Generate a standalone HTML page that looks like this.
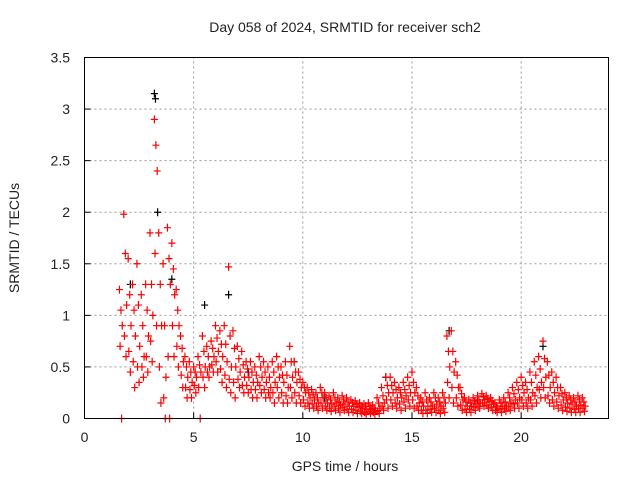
<!DOCTYPE html>
<html><head><meta charset="utf-8"><style>
body{margin:0;background:#fff;}
svg{display:block;font-family:"Liberation Sans",sans-serif;}
</style></head><body>
<svg id="chart" width="640" height="480" viewBox="0 0 640 480">
<rect width="640" height="480" fill="#fff"/>
<g id="grid"></g>
<g id="ticks"></g>
<g id="marks"></g>
<rect x="84.5" y="57.5" width="524" height="361" fill="none" stroke="#000" stroke-width="1"/>
<text x="345" y="32" font-size="14" text-anchor="middle" fill="#222">Day 058 of 2024, SRMTID for receiver sch2</text>
<text x="345" y="471" font-size="14" text-anchor="middle" fill="#222">GPS time / hours</text>
<text transform="translate(19,238) rotate(-90)" font-size="14" text-anchor="middle" fill="#222">SRMTID / TECUs</text>
</svg>
<script>
const xTicks=[0,5,10,15,20];
const yTicks=[0,0.5,1,1.5,2,2.5,3,3.5];
const yTickLabels=["0","0.5","1","1.5","2","2.5","3","3.5"];
const times=[1.6,1.8,2.0,2.2,2.4,2.6,2.8,3.0,3.2,3.4,3.6,3.8,4.0,4.2,4.4,4.6,4.8,5.0,5.2,5.4,5.6,5.8,6.0,6.2,6.4,6.6,6.8,7.0,7.2,7.4,7.6,7.8,8.0,8.2,8.4,8.6,8.8,9.0,9.2,9.4,9.6,9.8,10.0,10.2,10.4,10.6,10.8,11.0,11.2,11.4,11.6,11.8,12.0,12.2,12.4,12.6,12.8,13.0,13.2,13.4,13.6,13.8,14.0,14.2,14.4,14.6,14.8,15.0,15.2,15.4,15.6,15.8,16.0,16.2,16.4,16.6,16.8,17.0,17.2,17.4,17.6,17.8,18.0,18.2,18.4,18.6,18.8,19.0,19.2,19.4,19.6,19.8,20.0,20.2,20.4,20.6,20.8,21.0,21.2,21.4,21.6,21.8,22.0,22.2,22.4,22.6,22.8];
const redHi=[1.25,1.98,1.55,1.3,1.5,1.2,1.3,1.8,2.9,1.8,1.5,1.85,1.7,1.25,0.8,0.6,0.55,0.5,0.6,0.8,0.7,0.75,0.9,0.85,0.9,1.47,0.85,0.7,0.65,0.55,0.55,0.5,0.6,0.55,0.5,0.55,0.6,0.5,0.55,0.7,0.55,0.45,0.35,0.3,0.28,0.25,0.3,0.25,0.22,0.25,0.2,0.22,0.2,0.18,0.17,0.15,0.14,0.15,0.13,0.2,0.3,0.4,0.4,0.35,0.3,0.35,0.4,0.45,0.3,0.2,0.25,0.2,0.25,0.2,0.25,0.8,0.85,0.55,0.3,0.2,0.18,0.2,0.22,0.24,0.22,0.2,0.15,0.18,0.2,0.25,0.3,0.35,0.4,0.35,0.45,0.55,0.6,0.75,0.55,0.45,0.4,0.3,0.25,0.22,0.2,0.22,0.2];
const redUp=[1.05,1.6,1.2,1.05,1.1,0.9,1.05,1.3,2.65,1.3,0.9,1.55,1.45,1.05,0.68,0.5,0.45,0.45,0.52,0.65,0.6,0.68,0.78,0.72,0.72,0.8,0.68,0.58,0.52,0.48,0.45,0.42,0.5,0.45,0.4,0.45,0.5,0.42,0.42,0.55,0.45,0.38,0.3,0.25,0.23,0.2,0.25,0.2,0.18,0.2,0.16,0.18,0.16,0.15,0.14,0.12,0.12,0.12,0.1,0.15,0.22,0.32,0.32,0.28,0.25,0.28,0.32,0.35,0.22,0.16,0.18,0.16,0.2,0.16,0.2,0.65,0.65,0.42,0.24,0.16,0.15,0.17,0.18,0.21,0.19,0.17,0.12,0.15,0.16,0.2,0.24,0.28,0.32,0.28,0.35,0.42,0.48,0.58,0.42,0.35,0.3,0.24,0.2,0.18,0.16,0.18,0.16];
const redMid=[0.9,1.1,0.9,0.8,0.7,0.6,0.8,1.0,2.4,0.9,0.4,1.3,1.2,0.9,0.55,0.4,0.35,0.4,0.45,0.5,0.5,0.6,0.65,0.6,0.55,0.5,0.5,0.45,0.4,0.4,0.35,0.35,0.4,0.35,0.3,0.35,0.4,0.35,0.3,0.4,0.35,0.3,0.25,0.2,0.18,0.15,0.2,0.15,0.14,0.15,0.13,0.14,0.12,0.12,0.11,0.1,0.09,0.09,0.08,0.1,0.15,0.25,0.25,0.2,0.2,0.22,0.25,0.25,0.15,0.12,0.12,0.12,0.14,0.12,0.15,0.5,0.45,0.3,0.18,0.12,0.12,0.14,0.15,0.18,0.16,0.14,0.1,0.12,0.12,0.15,0.18,0.2,0.25,0.2,0.25,0.3,0.35,0.4,0.3,0.25,0.22,0.18,0.15,0.14,0.12,0.13,0.12];
const redDn=[0.7,0.8,0.65,0.55,0.5,0.5,0.6,0.75,1.6,0.5,0.2,0.6,0.9,0.7,0.42,0.3,0.28,0.32,0.3,0.4,0.45,0.52,0.55,0.48,0.42,0.38,0.35,0.38,0.32,0.32,0.28,0.28,0.32,0.28,0.25,0.25,0.3,0.25,0.22,0.3,0.25,0.22,0.18,0.15,0.14,0.12,0.15,0.12,0.1,0.12,0.1,0.11,0.09,0.09,0.08,0.07,0.06,0.07,0.06,0.07,0.12,0.18,0.18,0.15,0.14,0.16,0.18,0.18,0.12,0.08,0.08,0.09,0.1,0.08,0.1,0.35,0.3,0.2,0.13,0.09,0.09,0.11,0.12,0.15,0.13,0.11,0.08,0.09,0.1,0.12,0.14,0.15,0.18,0.15,0.18,0.22,0.28,0.3,0.22,0.18,0.16,0.13,0.11,0.1,0.09,0.1,0.1];
const redLo=[0,0.6,0.45,0.3,0.35,0.4,0.45,0.55,0.9,0.15,0,0,0.6,0.5,0.3,0.2,0.2,0.25,0,0.3,0.4,0.45,0.45,0.35,0.3,0.25,0.2,0.3,0.25,0.25,0.2,0.2,0.25,0.2,0.2,0.15,0.2,0.15,0.15,0.2,0.15,0.15,0.12,0.1,0.1,0.08,0.1,0.08,0.07,0.08,0.06,0.08,0.06,0.06,0.05,0.05,0.04,0.05,0.04,0.05,0.08,0.1,0.12,0.1,0.08,0.1,0.12,0.1,0.08,0.05,0.05,0.06,0.06,0.05,0.06,0.2,0.15,0.12,0.08,0.06,0.06,0.08,0.1,0.12,0.1,0.08,0.06,0.06,0.07,0.08,0.1,0.1,0.12,0.1,0.12,0.15,0.2,0.2,0.15,0.12,0.1,0.08,0.07,0.06,0.06,0.06,0.07];
const blackT=[2.1,3.2,3.25,3.35,4.0,5.5,6.6,9.6,13.8,16.7,21.0,7.5,11.0,18.0];
const blackV=[1.3,3.15,3.1,2.0,1.35,1.1,1.2,0.55,0.4,0.85,0.7,0.45,0.2,0.18];
const NS="http://www.w3.org/2000/svg";
const X0=84.5,X1=608.5,Y0=418.5,Y1=57.5,XMAX=24,YMAX=3.5;
function sx(t){return X0+(X1-X0)*t/XMAX;}
function sy(v){return Y0-(Y0-Y1)*v/YMAX;}
const grid=document.getElementById('grid'),ticks=document.getElementById('ticks'),marks=document.getElementById('marks');
function mk(tag,attrs,parent){const e=document.createElementNS(NS,tag);for(const k in attrs)e.setAttribute(k,attrs[k]);parent.appendChild(e);return e;}
xTicks.forEach((t,i)=>{
  const x=sx(t);
  if(t>0){const g=mk('line',{x1:x,x2:x,y1:Y0,y2:Y1,stroke:'#999','stroke-dasharray':'2,3'},grid);
  
  }
  const tk=mk('line',{x1:x,x2:x,y1:Y0,y2:Y0-6,stroke:'#000'},ticks);
  
  
  const lb=mk('text',{x:x,y:442,'font-size':14,'text-anchor':'middle',fill:'#222'},ticks);lb.textContent=String(t);
  
  
});
yTicks.forEach((v,i)=>{
  const y=sy(v);
  if(v>0&&v<YMAX){const g=mk('line',{x1:X0,x2:X1,y1:y,y2:y,stroke:'#999','stroke-dasharray':'2,3'},grid);
  
  }
  const tk=mk('line',{x1:X0,x2:X0+6,y1:y,y2:y,stroke:'#000'},ticks);
  
  
  const lb=mk('text',{x:70,y:y+5,'font-size':14,'text-anchor':'end',fill:'#222'},ticks);lb.textContent=yTickLabels[i];
  
  
});
function plus(t,v,color,name){
  const x=sx(t),y=sy(v);
  const p=mk('path',{d:`M${x-3.5} ${y}H${x+3.5}M${x} ${y-4}V${y+4}`,stroke:color,'stroke-width':1.2,fill:'none'},marks);
  
  
}
blackT.forEach((t,i)=>plus(t,blackV[i],'#000','black-point'));
times.forEach((t,i)=>{
  plus(t,redHi[i],'#f00','red-point');
  plus(t+0.07,redUp[i],'#f00','red-point');
  plus(t+0.13,redMid[i],'#f00','red-point');
  plus(t+0.03,redDn[i],'#f00','red-point');
  plus(t+0.1,redLo[i],'#f00','red-point');
});
</script>
</body></html>
